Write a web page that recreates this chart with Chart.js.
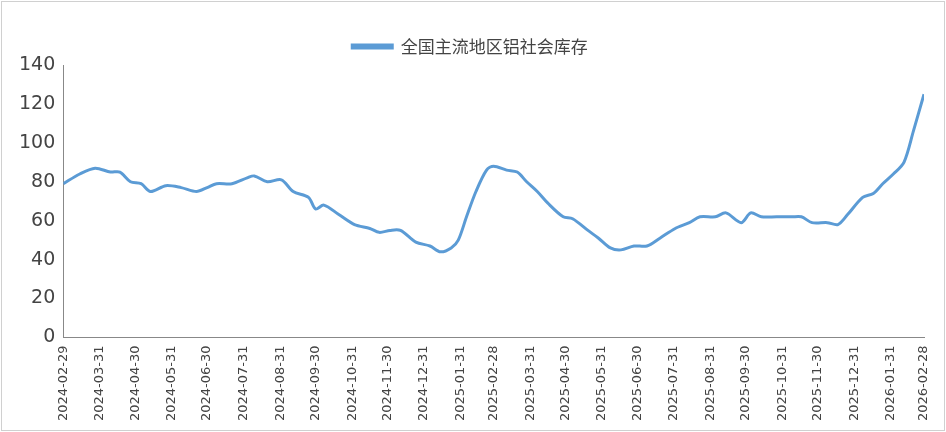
<!DOCTYPE html>
<html><head><meta charset="utf-8">
<script src="https://cdn.jsdelivr.net/npm/chart.js@4"></script>
<style>
body{margin:0;background:#fff;}
#wrap{position:absolute;left:1px;top:1px;width:942px;height:428px;border:1px solid #d0d0d0;}
</style></head><body>
<div id="wrap"><canvas id="c"></canvas></div>
<script>
// days since 2024-02-29
var dayOffsets = [0,14,27,40,48,57,66,74,87,100,113,122,130,143,156,162,173,185,195,208,214,221,234,247,260,268,277,286,299,311,320,329,335,342,350,359,365,376,385,393,402,411,424,432,445,454,464,473,484,495,506,519,531,540,553,562,575,583,592,605,618,626,635,648,657,665,678,687,695,704,713,721,730];
var stock = [79,84,87,85,85,80,79,75,78,77,75,77,79,79,82,83,80,81,75,72,66,68,63,58,56,54,55,55,49,47,44,46,50,62,75,86,88,86,85,80,75,69,62,61,55,51,46,45,47,47,51,56,59,62,62,64,59,64,62,62,62,62,59,59,58,63,72,74,79,84,90,106,125];
var yTicks = [0,20,40,60,80,100,120,140];

var start = new Date(2024, 1, 29);
var monthEnds = [];
for (var i = 0; i <= 24; i++) {
  monthEnds.push(new Date(2024, 2 + i, 0));
}
function dayOf(d) { return Math.round((d - start) / 86400000); }
function fmt(d) {
  var m = d.getMonth() + 1, dd = d.getDate();
  return d.getFullYear() + '-' + (m < 10 ? '0' : '') + m + '-' + (dd < 10 ? '0' : '') + dd;
}
var tickDays = monthEnds.map(dayOf);
var tickLabel = {};
monthEnds.forEach(function(d){ tickLabel[dayOf(d)] = fmt(d); });

var pts = dayOffsets.map(function(x, i){ return {x: x, y: stock[i]}; });

new Chart(document.getElementById('c'), {
  type: 'line',
  data: { datasets: [{
    label: '全国主流地区铝社会库存',
    data: pts,
    borderColor: '#5b9bd5',
    backgroundColor: '#5b9bd5',
    borderWidth: 3,
    pointRadius: 0,
    tension: 0.3
  }]},
  options: {
    responsive: true, maintainAspectRatio: false, animation: false,
    layout: { padding: { left: 14, right: 20, top: 14, bottom: 6 } },
    plugins: {
      legend: { labels: { font: { family: 'Noto Sans CJK SC', size: 17 }, color: '#444',
        boxWidth: 40, boxHeight: 3, padding: 22 } },
      tooltip: { enabled: false }
    },
    scales: {
      x: {
        type: 'linear', min: 0, max: tickDays[tickDays.length - 1],
        grid: { display: false, drawTicks: true, tickLength: 5 },
        border: { color: '#888' },
        afterBuildTicks: function(ax){ ax.ticks = tickDays.map(function(v){ return {value: v}; }); },
        ticks: { autoSkip: false, maxRotation: 90, minRotation: 90, color: '#444',
          font: { family: 'DejaVu Sans', size: 13 },
          callback: function(v){ return tickLabel[v] || ''; } }
      },
      y: {
        min: 0, max: 140,
        grid: { display: false, tickLength: 5 },
        border: { color: '#888' },
        afterBuildTicks: function(ax){ ax.ticks = yTicks.map(function(v){ return {value: v}; }); },
        ticks: { color: '#444', font: { family: 'DejaVu Sans', size: 19 } }
      }
    }
  }
});
</script>
</body></html>
